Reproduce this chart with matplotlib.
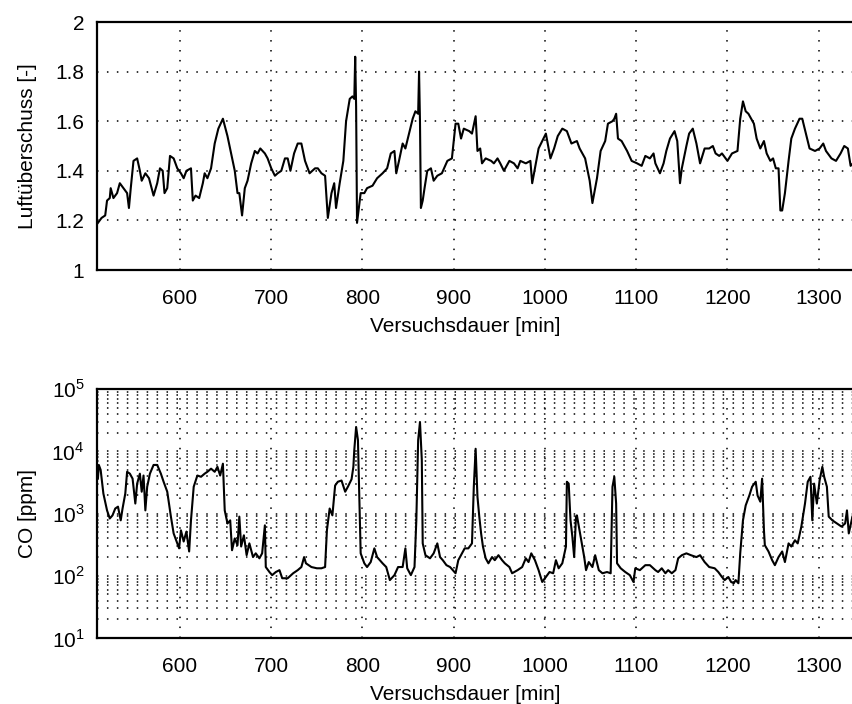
import numpy as np
import matplotlib
matplotlib.use("Agg")
import matplotlib.pyplot as plt
import matplotlib.ticker as ticker

plt.rcParams['font.family'] = ['Liberation Sans', 'DejaVu Sans']
plt.rcParams['mathtext.fontset'] = 'custom'
plt.rcParams['mathtext.rm'] = 'Liberation Sans'

# Luftueberschuss (lambda) ueber der Zeit
t_lam = [510, 514, 518, 520, 523, 524, 527, 531, 534, 538, 542, 544, 546, 549, 553, 556, 558, 562, 566, 571,
         575, 578, 581, 583, 586, 589, 593, 597, 601, 604, 607, 612, 614, 617, 621, 625, 627, 630, 634, 638,
         642, 647, 652, 656, 660, 663, 665, 668, 671, 674, 678, 682, 685, 688, 693, 696, 700, 704, 707, 711,
         715, 718, 721, 725, 729, 733, 737, 742, 748, 751, 755, 759, 762, 766, 769, 771, 775, 779, 782, 786,
         789, 791, 792, 793, 794, 796, 798, 802, 805, 811, 816, 822, 827, 831, 835, 837, 840, 844, 847, 851,
         855, 858, 861, 862, 863, 864, 866, 868, 871, 875, 878, 882, 887, 893, 898, 902, 905, 908, 911, 917,
         920, 924, 926, 929, 931, 935, 941, 944, 948, 951, 955, 961, 966, 970, 973, 979, 984, 986, 989, 993,
         997, 1001, 1003, 1006, 1010, 1014, 1019, 1024, 1029, 1035, 1038, 1044, 1049, 1052, 1057, 1061, 1066,
         1069, 1074, 1076, 1078, 1080, 1084, 1090, 1095, 1101, 1106, 1110, 1115, 1119, 1121, 1126, 1130, 1133,
         1137, 1142, 1145, 1148, 1150, 1155, 1158, 1162, 1166, 1170, 1175, 1180, 1184, 1187, 1191, 1194, 1200,
         1205, 1211, 1214, 1217, 1220, 1223, 1229, 1232, 1236, 1240, 1243, 1247, 1250, 1253, 1256, 1258, 1260,
         1263, 1267, 1270, 1274, 1279, 1282, 1286, 1290, 1296, 1301, 1305, 1308, 1314, 1319, 1324, 1328, 1332,
         1335, 1340]
lam = [1.19, 1.21, 1.22, 1.28, 1.29, 1.33, 1.29, 1.31, 1.35, 1.33, 1.31, 1.25, 1.33, 1.44, 1.45, 1.40, 1.36, 1.39, 1.37, 1.30,
       1.35, 1.41, 1.40, 1.31, 1.33, 1.46, 1.45, 1.41, 1.39, 1.37, 1.40, 1.41, 1.28, 1.30, 1.29, 1.35, 1.39, 1.37, 1.41, 1.51,
       1.57, 1.61, 1.54, 1.47, 1.40, 1.31, 1.31, 1.22, 1.33, 1.36, 1.43, 1.48, 1.47, 1.49, 1.47, 1.45, 1.41, 1.38, 1.39, 1.40,
       1.45, 1.45, 1.40, 1.47, 1.51, 1.51, 1.44, 1.39, 1.41, 1.41, 1.39, 1.38, 1.21, 1.31, 1.35, 1.25, 1.35, 1.44, 1.60, 1.69,
       1.70, 1.69, 1.86, 1.66, 1.19, 1.25, 1.31, 1.31, 1.33, 1.34, 1.37, 1.39, 1.41, 1.47, 1.48, 1.39, 1.44, 1.51, 1.49, 1.55,
       1.61, 1.64, 1.63, 1.80, 1.60, 1.25, 1.28, 1.33, 1.40, 1.41, 1.36, 1.38, 1.39, 1.44, 1.45, 1.59, 1.59, 1.53, 1.57, 1.56,
       1.55, 1.62, 1.48, 1.49, 1.43, 1.45, 1.44, 1.43, 1.45, 1.43, 1.40, 1.44, 1.43, 1.41, 1.44, 1.43, 1.44, 1.35, 1.41, 1.49,
       1.52, 1.55, 1.51, 1.45, 1.49, 1.54, 1.57, 1.56, 1.51, 1.52, 1.49, 1.45, 1.36, 1.27, 1.37, 1.48, 1.52,
       1.59, 1.60, 1.61, 1.63, 1.53, 1.52, 1.48, 1.44, 1.43, 1.42, 1.46, 1.45, 1.47, 1.43, 1.39, 1.43, 1.48,
       1.53, 1.56, 1.52, 1.35, 1.41, 1.50, 1.55, 1.57, 1.51, 1.43, 1.49, 1.49, 1.50, 1.47, 1.46, 1.47, 1.44,
       1.47, 1.48, 1.61, 1.68, 1.64, 1.63, 1.59, 1.53, 1.49, 1.52, 1.47, 1.44, 1.45, 1.41, 1.41, 1.24, 1.24,
       1.31, 1.44, 1.53, 1.57, 1.61, 1.61, 1.55, 1.49, 1.48, 1.49, 1.51, 1.48, 1.45, 1.44, 1.47, 1.50, 1.49,
       1.42, 1.44]

t_co = [510, 511, 513, 516, 520, 523, 526, 529, 532, 535, 537, 540, 542, 545, 548, 551, 553, 556, 558, 560,
        562, 564, 567, 571, 575, 579, 582, 586, 590, 593, 597, 599, 601, 604, 607, 610, 612, 615, 619, 623,
        627, 630, 634, 638, 641, 644, 647, 649, 652, 655, 657, 660, 663, 665, 667, 670, 673, 676, 680, 683,
        687, 690, 693, 694, 698, 701, 705, 709, 712, 718, 724, 729, 733, 736, 738, 744, 750, 755, 759, 761,
        764, 767, 770, 773, 777, 781, 784, 788, 790, 791, 793, 795, 797, 798, 802, 805, 809, 813, 816, 822,
        826, 830, 835, 839, 844, 847, 849, 853, 857, 859, 861, 863, 865, 866, 869, 874, 878, 882, 885, 888,
        892, 896, 899, 902, 905, 909, 912, 916, 920, 922, 924, 926, 928, 930, 932, 935, 938, 942, 945, 949,
        953, 956, 961, 964, 970, 975, 979, 982, 985, 989, 993, 997, 1001, 1005, 1009, 1012, 1015, 1019, 1023,
        1024, 1026, 1028, 1030, 1032, 1034, 1035, 1039, 1043, 1045, 1048, 1052, 1055, 1059, 1063, 1068, 1072,
        1074, 1076, 1078, 1079, 1083, 1088, 1093, 1097, 1099, 1104, 1110, 1115, 1121, 1124, 1128, 1132, 1135,
        1139, 1143, 1146, 1150, 1155, 1160, 1166, 1170, 1175, 1180, 1186, 1190, 1194, 1197, 1201, 1204, 1207,
        1209, 1212, 1214, 1217, 1220, 1224, 1227, 1231, 1233, 1236, 1238, 1240, 1241, 1245, 1249, 1252, 1256,
        1260, 1263, 1267, 1270, 1274, 1277, 1281, 1285, 1288, 1291, 1293, 1295, 1298, 1301, 1304, 1306, 1309,
        1311, 1315, 1320, 1325, 1329, 1331, 1333, 1337, 1340]
co_exp = [3.56, 3.78, 3.70, 3.32, 3.05, 2.92, 2.97, 3.08, 3.11, 2.89, 3.08, 3.32, 3.67, 3.64, 3.56, 3.16, 3.48, 3.64, 3.35, 3.61,
          3.05, 3.43, 3.64, 3.78, 3.78, 3.64, 3.51, 3.35, 2.95, 2.68, 2.52, 2.44, 2.73, 2.55, 2.71, 2.39, 2.89, 3.43, 3.61, 3.59,
          3.64, 3.67, 3.72, 3.67, 3.75, 3.61, 3.80, 3.05, 2.84, 2.89, 2.41, 2.60, 2.49, 2.95, 2.47, 2.65, 2.33, 2.52, 2.30, 2.36,
          2.28, 2.36, 2.81, 2.14, 2.06, 2.01, 2.06, 2.09, 1.96, 1.96, 2.04, 2.09, 2.14, 2.30, 2.20, 2.14, 2.12, 2.12, 2.14, 2.73,
          3.08, 2.97, 3.45, 3.51, 3.53, 3.35, 3.43, 3.55, 3.75, 4.02, 4.39, 4.18, 3.00, 2.36, 2.20, 2.14, 2.22, 2.44, 2.30, 2.20,
          2.14, 1.93, 2.01, 2.14, 2.14, 2.44, 2.12, 2.01, 2.14, 2.89, 4.18, 4.47, 3.86, 2.52, 2.33, 2.28, 2.36, 2.52, 2.30, 2.25,
          2.17, 2.14, 2.09, 2.04, 2.25, 2.36, 2.44, 2.44, 2.52, 3.43, 4.04, 3.27, 2.95, 2.68, 2.47, 2.28, 2.20, 2.30, 2.25, 2.33,
          2.25, 2.20, 2.14, 2.04, 2.09, 2.14, 2.28, 2.22, 2.36, 2.25, 2.09, 1.90, 1.98, 2.06, 2.04, 2.25, 2.12, 2.20, 2.47,
          3.51, 3.48, 2.89, 2.63, 2.30, 2.95, 2.97, 2.63, 2.30, 2.09, 2.22, 2.14, 2.33, 2.09, 2.04, 2.06, 2.04,
          3.43, 3.59, 3.16, 2.20, 2.12, 2.06, 2.01, 1.90, 2.12, 2.09, 2.17, 2.17, 2.09, 2.06, 2.12, 2.04, 2.09,
          2.04, 2.09, 2.28, 2.33, 2.36, 2.33, 2.30, 2.33, 2.22, 2.14, 2.12, 2.06, 1.98, 1.93, 1.98, 1.90, 1.88,
          1.93, 1.88, 2.36, 2.89, 3.13, 3.29, 3.43, 3.51, 3.29, 3.19, 3.56, 2.73, 2.49, 2.39, 2.25, 2.17, 2.30,
          2.39, 2.22, 2.52, 2.47, 2.57, 2.52, 2.79, 3.16, 3.51, 3.59, 2.89, 3.48, 3.16, 3.53, 3.75, 3.59, 3.43,
          2.95, 2.89, 2.84, 2.79, 2.84, 3.05, 2.68, 2.95, 2.90]

lam_ticks = [1, 1.2, 1.4, 1.6, 1.8, 2]
lam_labels = ['1', '1.2', '1.4', '1.6', '1.8', '2']
co_ticks = [1e1, 1e2, 1e3, 1e4, 1e5]
co_labels = [r'$10^{1}$', r'$10^{2}$', r'$10^{3}$', r'$10^{4}$', r'$10^{5}$']
t_ticks = [600, 700, 800, 900, 1000, 1100, 1200, 1300]

co = 10 ** np.array(co_exp)

fs = 15
W, H = 853, 704
fig = plt.figure(figsize=(W / 100, H / 100), dpi=100)
# Achsen etwas ueber den rechten Rand hinaus (Vorlage ist dort abgeschnitten)
ax1 = fig.add_axes([97 / W, 1 - 270 / H, 760 / W, 248 / H])
ax2 = fig.add_axes([97 / W, 1 - 638 / H, 760 / W, 249 / H])

grid_kw = dict(color='k', linestyle=(0, (1, 5.5)), linewidth=1.1)

ax1.plot(t_lam, lam, color='k', linewidth=1.5)
ax1.set_xlim(509, 1342)
ax1.set_ylim(1, 2)
ax1.set_yticks(lam_ticks)
ax1.set_yticklabels(lam_labels)
ax1.set_ylabel('Luftüberschuss [-]', fontsize=fs)

ax2.plot(t_co, co, color='k', linewidth=1.5)
ax2.set_yscale('log')
ax2.set_xlim(509, 1342)
ax2.set_ylim(1e1, 1e5)
ax2.set_yticks(co_ticks)
ax2.set_yticklabels(co_labels)
ax2.yaxis.set_minor_locator(ticker.LogLocator(base=10, subs=np.arange(2, 10)))
ax2.yaxis.set_minor_formatter(ticker.NullFormatter())
ax2.set_ylabel('CO [ppm]', fontsize=fs)
ax2.grid(True, which='minor', axis='y', **grid_kw)

for ax in (ax1, ax2):
    ax.set_xticks(t_ticks)
    ax.grid(True, which='major', **grid_kw)
    ax.set_axisbelow(True)
    ax.tick_params(which='both', direction='in', length=0, labelsize=fs)
    ax.tick_params(axis='x', pad=14)
    ax.tick_params(axis='y', pad=9)
    ax.set_xlabel('Versuchsdauer [min]', fontsize=fs)
    ax.xaxis.set_label_coords(0.484, -0.19)
    ax.yaxis.set_label_coords(-0.079, 0.5)
    for s in ax.spines.values():
        s.set_linewidth(1.6)

fig.savefig('out.png', dpi=100)
